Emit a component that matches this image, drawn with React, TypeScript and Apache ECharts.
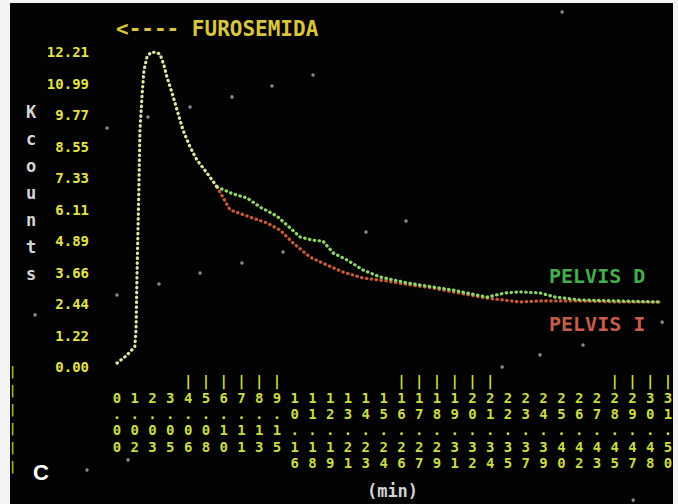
import React, { useEffect, useRef } from "react";
import * as echarts from "echarts";

// frame time labels (min), one per frame column
const frameLabels = [
  "0.00", "1.02", "2.03", "3.05", "4.06", "5.08", "6.10", "7.11", "8.13", "9.15",
  "10.16", "11.18", "12.19", "13.21", "14.23", "15.24", "16.26", "17.27", "18.29", "19.31",
  "20.32", "21.34", "22.35", "23.37", "24.39", "25.40", "26.42", "27.43", "28.45", "29.47",
  "30.48", "31.50",
];
// top row marks above frame labels
const frameMarks = [0, 0, 0, 0, 1, 1, 1, 1, 1, 1, 0, 0, 0, 0, 0, 0, 1, 1, 1, 1, 1, 1, 0, 0, 0, 0, 0, 0, 1, 1, 1, 1];
// y tick labels (Kcounts)
const yTickLabels = ["0.00", "1.22", "2.44", "3.66", "4.89", "6.11", "7.33", "8.55", "9.77", "10.99", "12.21"];
const yStep = 1.221;

// common part of both curves (frame units, Kcounts)
const sharedTimes = [0, 0.5, 1.0, 1.07, 1.12, 1.18, 1.24, 1.29, 1.41, 1.52, 1.69, 1.91, 2.19, 2.42, 2.64, 2.81, 3.1, 3.43, 3.71, 4.11, 4.5, 5.06, 5.63];
const sharedCounts = [0.15, 0.42, 0.78, 1.43, 3.37, 5.31, 7.25, 9.19, 10.54, 11.51, 12.02, 12.2, 12.2, 12.13, 11.7, 11.24, 10.62, 9.84, 9.19, 8.53, 8.02, 7.52, 6.98];

const pelvisDTimes = [6.53, 7.32, 8.05, 9.0, 9.74, 10.3, 10.97, 11.59, 12.16, 12.94, 13.84, 14.8, 16.32, 17.78, 18.91, 20.82, 21.83, 22.68, 23.8, 24.65, 26.05, 28.31, 30.56];
const pelvisDCounts = [6.71, 6.55, 6.2, 5.85, 5.39, 5.04, 4.92, 4.88, 4.42, 4.15, 3.76, 3.49, 3.26, 3.1, 2.98, 2.71, 2.87, 2.91, 2.87, 2.71, 2.6, 2.56, 2.52];

const pelvisITimes = [6.36, 7.48, 8.44, 9.17, 9.9, 10.86, 11.82, 12.72, 13.84, 15.19, 16.49, 17.78, 18.91, 20.82, 22.68, 23.8, 26.05, 28.31, 30.56];
const pelvisICounts = [6.09, 5.81, 5.58, 5.31, 4.81, 4.26, 3.95, 3.68, 3.45, 3.33, 3.18, 3.06, 2.91, 2.67, 2.52, 2.56, 2.56, 2.52, 2.52];

// scattered screen specks
const speckTimes = [11.03, 8.72, 6.47, 4.11, 1.74, -0.56, 9.34, 7.03, 4.67, 2.36, 0, -4.61, 16.26, 14.01, 0.62, -1.69, 26.22, 23.8, 21.67, 29.04, 30.67, 25.04];
const speckCounts = [11.32, 10.89, 10.47, 10.08, 9.69, 9.26, 4.46, 4.03, 3.64, 3.22, 2.79, 2.02, 5.66, 5.23, -3.6, -3.99, 0.85, 0.47, 0, -5.16, 1.74, 13.76];

const MONO = "DejaVu Sans Mono";

function zip(xs: number[], ys: number[]) {
  return xs.map((x, i) => [x, ys[i]]);
}

export default function App() {
  const ref = useRef<HTMLDivElement>(null);
  useEffect(() => {
    if (!ref.current) return;
    const chart = echarts.init(ref.current, undefined, { renderer: "svg" });
    const shared = zip(sharedTimes, sharedCounts);
    const last = shared[shared.length - 1];
    const dotLine = (color: string) => ({ width: 3.2, type: [0.5, 4.4], cap: "round", color });
    chart.setOption({
      animation: false,
      backgroundColor: "#f3f3f3",
      title: {
        text: "<---- FUROSEMIDA",
        left: 116,
        top: 18,
        padding: 0,
        textStyle: { color: "#d8c63e", fontFamily: MONO, fontWeight: "bold", fontSize: 21 },
      },
      legend: {
        orient: "vertical",
        left: 543,
        top: 266,
        padding: 0,
        itemWidth: 0,
        itemHeight: 0,
        itemGap: 28,
        selectedMode: false,
        textStyle: { fontFamily: MONO, fontWeight: "bold", fontSize: 20 },
        data: [
          { name: "PELVIS D", textStyle: { color: "#45ad4f" } },
          { name: "PELVIS I", textStyle: { color: "#c65d4a" } },
        ],
      },
      grid: { left: 117, right: 10, top: 52, bottom: 137, outerBoundsMode: "none", containLabel: false },
      xAxis: {
        type: "value",
        min: 0,
        max: 31,
        interval: 1,
        name: "(min)",
        nameLocation: "middle",
        nameGap: 115,
        nameTextStyle: { color: "#d4d4d4", fontFamily: MONO, fontWeight: "bold", fontSize: 17 },
        axisLine: { show: false },
        axisTick: { show: false },
        splitLine: { show: false },
        axisLabel: {
          margin: 6,
          verticalAlign: "top",
          lineHeight: 16.4,
          color: "#cadc44",
          fontFamily: MONO,
          fontWeight: "bold",
          fontSize: 14,
          formatter: (v: number) => {
            const i = Math.round(v);
            const s = frameLabels[i] || "";
            return [frameMarks[i] ? "|" : " ", ...s.split("")].join("\n");
          },
        },
      },
      yAxis: {
        type: "value",
        min: 0,
        max: 12.21,
        interval: yStep,
        axisLine: { show: false },
        axisTick: { show: false },
        splitLine: { show: false },
        axisLabel: {
          margin: 28,
          color: "#e2e24a",
          fontFamily: MONO,
          fontWeight: "bold",
          fontSize: 14,
          formatter: (v: number) => yTickLabels[Math.round(v / yStep)] || "",
        },
      },
      graphic: [
        {
          type: "rect",
          z: -100,
          silent: true,
          shape: { x: 10, y: 3, width: 663, height: 501 },
          style: { fill: "#030303" },
        },
        {
          type: "text",
          x: 31,
          y: 98,
          style: {
            text: "K\nc\no\nu\nn\nt\ns",
            fill: "#d6d6d6",
            font: `bold 17px ${MONO}`,
            lineHeight: 27,
            align: "center",
          },
        },
        {
          type: "text",
          x: 33,
          y: 461,
          style: { text: "C", fill: "#ffffff", font: "bold 22px 'Liberation Sans'" },
        },
        {
          type: "text",
          x: 9,
          y: 362,
          style: { text: "|\n|\n|\n|\n|\n|", fill: "#b8c232", font: `bold 12px ${MONO}`, lineHeight: 19 },
        },
      ],
      series: [
        {
          name: "PELVIS I",
          type: "line",
          clip: false,
          showSymbol: false,
          z: 3,
          lineStyle: dotLine("#c65a3a"),
          itemStyle: { color: "#c65a3a" },
          data: [last, ...zip(pelvisITimes, pelvisICounts)],
        },
        {
          name: "PELVIS D",
          type: "line",
          clip: false,
          showSymbol: false,
          z: 4,
          lineStyle: dotLine("#8fd468"),
          itemStyle: { color: "#8fd468" },
          data: [last, ...zip(pelvisDTimes, pelvisDCounts)],
        },
        {
          name: "common",
          type: "line",
          clip: false,
          showSymbol: false,
          z: 4,
          lineStyle: dotLine("#e2e4a2"),
          itemStyle: { color: "#e2e4a2" },
          data: shared,
        },
        {
          name: "specks",
          type: "scatter",
          clip: false,
          silent: true,
          symbolSize: 3.5,
          z: 1,
          itemStyle: { color: "#a8a8b8", opacity: 0.8 },
          data: zip(speckTimes, speckCounts),
        },
      ],
    });
    return () => chart.dispose();
  }, []);
  return <div ref={ref} style={{ position: "fixed", left: 0, top: 0, width: 678, height: 504 }} />;
}
